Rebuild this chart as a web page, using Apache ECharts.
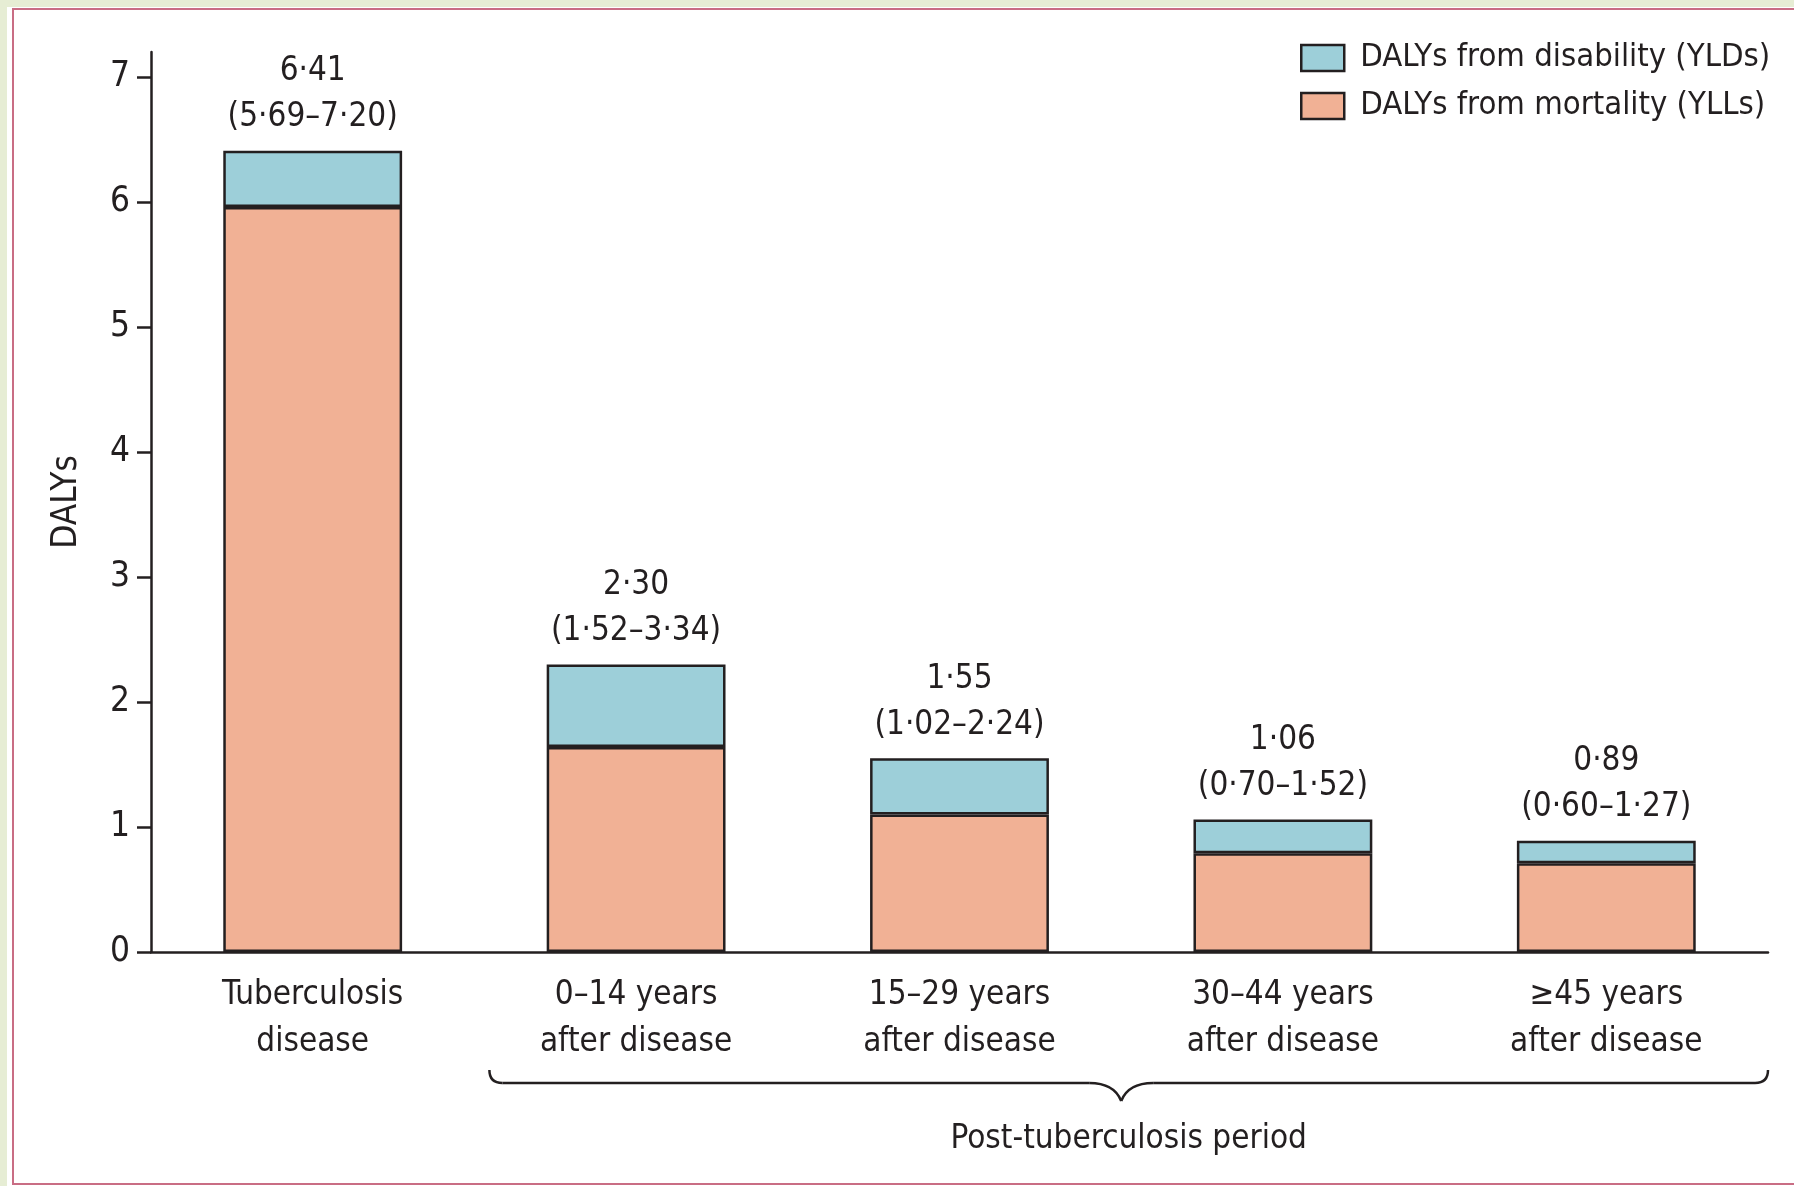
<!DOCTYPE html>
<html><head><meta charset="utf-8">
<script src="https://cdn.jsdelivr.net/npm/echarts@6/dist/echarts.min.js"></script>
<style>
html,body{margin:0;padding:0;width:1794px;height:1186px;overflow:hidden;background:#e6edd4;}
#paper{position:absolute;left:7px;top:7px;width:1787px;height:1179px;background:#fff;}
#frame{position:absolute;left:12px;top:8px;width:1800px;height:1177px;border:2px solid #c96d84;border-right:none;box-sizing:border-box;}
#chart{position:absolute;left:0;top:0;width:1794px;height:1186px;}
</style>
</head><body>
<div id="paper"></div><div id="frame"></div>
<div id="chart"></div>
<script>
const categories = ['Tuberculosis\ndisease', '0–14 years\nafter disease', '15–29 years\nafter disease', '30–44 years\nafter disease', '≥45 years\nafter disease'];
const yllValues = [5.96, 1.64, 1.10, 0.79, 0.71];
const yldValues = [0.45, 0.66, 0.45, 0.27, 0.18];
const totalLabels = ['6·41', '2·30', '1·55', '1·06', '0·89'];
const intervalLabels = ['(5·69–7·20)', '(1·52–3·34)', '(1·02–2·24)', '(0·70–1·52)', '(0·60–1·27)'];
const yTicks = [0, 1, 2, 3, 4, 5, 6, 7];
const seriesNames = ['DALYs from mortality (YLLs)', 'DALYs from disability (YLDs)'];
const legendOrder = ['DALYs from disability (YLDs)', 'DALYs from mortality (YLLs)'];
const periodLabel = 'Post-tuberculosis period';

const FONT = "'DejaVu Sans Condensed','DejaVu Sans',sans-serif";
const INK = '#231f20';
const FS = 33;
const chart = echarts.init(document.getElementById('chart'), null, {renderer: 'canvas'});
const option = {
  animation: false,
  backgroundColor: 'transparent',
  textStyle: {fontFamily: FONT, color: INK},
  grid: {left: 151, right: 26, top: 52, bottom: 234, containLabel: false},
  legend: {
    orient: 'vertical', left: 1300, top: 39, padding: 0,
    itemWidth: 43, itemHeight: 26, itemGap: 10, icon: 'rect',
    data: legendOrder, selectedMode: false,
    itemStyle: {borderColor: INK, borderWidth: 2.5},
    textStyle: {fontFamily: FONT, fontSize: 32.6, color: INK, lineHeight: 38, padding: [0, 0, 0, 11]}
  },
  xAxis: {
    type: 'category', data: categories,
    axisLine: {lineStyle: {color: INK, width: 2.5}},
    axisTick: {length: 18, lineStyle: {color: INK, width: 2.5}},
    axisLabel: {fontFamily: FONT, fontSize: FS, color: INK, lineHeight: 47, margin: 20, interval: 0}
  },
  yAxis: {
    type: 'value', min: 0, max: 7.2, interval: 1,
    name: 'DALYs', nameLocation: 'middle', nameGap: 67,
    nameTextStyle: {fontFamily: FONT, fontSize: 35, color: INK},
    axisLine: {show: true, lineStyle: {color: INK, width: 2.5}},
    axisTick: {show: true, length: 14, lineStyle: {color: INK, width: 2.5}, customValues: yTicks},
    axisLabel: {fontFamily: FONT, fontSize: 35, color: INK, margin: 21, customValues: yTicks},
    splitLine: {show: false}
  },
  series: [
    {name: seriesNames[0], type: 'bar', stack: 'd', data: yllValues, barWidth: '55.3%',
     itemStyle: {color: '#f1b195', borderColor: INK, borderWidth: 2.5}},
    {name: seriesNames[1], type: 'bar', stack: 'd', data: yldValues, barWidth: '55.3%',
     itemStyle: {color: '#9dcfd9', borderColor: INK, borderWidth: 2.5},
     label: {show: true, position: 'top', distance: 10,
       formatter: p => '{a|' + totalLabels[p.dataIndex] + '}\n{a|' + intervalLabels[p.dataIndex] + '}',
       rich: {a: {fontFamily: FONT, fontSize: FS, lineHeight: 46, color: INK, align: 'center'}}}}
  ]
};
chart.setOption(option);

const c0 = chart.convertToPixel({xAxisIndex: 0}, 0);
const c1 = chart.convertToPixel({xAxisIndex: 0}, 1);
const band = c1 - c0;
const xL = c1 - band / 2 + 15;
const xR = chart.convertToPixel({xAxisIndex: 0}, categories.length - 1) + band / 2;
const xM = (xL + xR) / 2;
const xT = chart.convertToPixel({xAxisIndex: 0}, 3) - band / 2;
const y0 = chart.convertToPixel({yAxisIndex: 0}, 0);
const yb = y0 + 131, yh = y0 + 118, yt = y0 + 149;
const braceStyle = {fill: null, stroke: INK, lineWidth: 2.5};
chart.setOption({
  graphic: [
    {type: 'bezierCurve', shape: {x1: xL, y1: yh, x2: xL + 13, y2: yb, cpx1: xL, cpy1: yb}, style: braceStyle},
    {type: 'line', shape: {x1: xL + 13, y1: yb, x2: xT - 32, y2: yb}, style: braceStyle},
    {type: 'bezierCurve', shape: {x1: xT - 32, y1: yb, x2: xT, y2: yt, cpx1: xT - 7, cpy1: yb}, style: braceStyle},
    {type: 'bezierCurve', shape: {x1: xT, y1: yt, x2: xT + 32, y2: yb, cpx1: xT + 7, cpy1: yb}, style: braceStyle},
    {type: 'line', shape: {x1: xT + 32, y1: yb, x2: xR - 13, y2: yb}, style: braceStyle},
    {type: 'bezierCurve', shape: {x1: xR - 13, y1: yb, x2: xR, y2: yh, cpx1: xR, cpy1: yb}, style: braceStyle},
    {type: 'text', x: xM, y: y0 + 187, style: {text: periodLabel, fontFamily: FONT, fontSize: FS, fill: INK, align: 'center', verticalAlign: 'middle'}}
  ]
});
</script>
</body></html>
